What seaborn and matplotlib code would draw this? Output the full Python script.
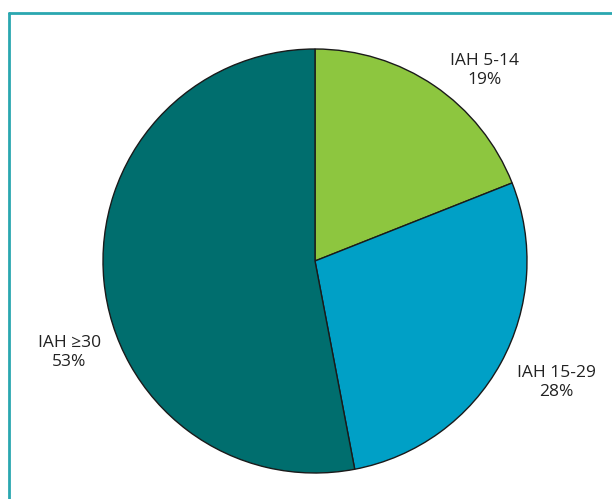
import matplotlib
matplotlib.use("Agg")
import matplotlib.pyplot as plt
from matplotlib.lines import Line2D
import seaborn as sns

# data
categories = ["IAH 5-14", "IAH 15-29", "IAH \u226530"]
shares = [19, 28, 53]
colors = sns.color_palette(["#8DC63F", "#00A0C6", "#006E6E"])

sns.set_theme(style="white")
plt.rcParams['font.family'] = ['Open Sans', 'DejaVu Sans']

fig = plt.figure(figsize=(6.12, 4.99), dpi=100)
# axes sized so the pie sits like the original
ax = fig.add_axes([103 / 612, 26 / 499, 424 / 612, 424 / 499])

labels = [f"{c}\n{s}%" for c, s in zip(categories, shares)]
wedges, texts = ax.pie(shares, labels=labels, colors=colors, startangle=90,
                       counterclock=False, radius=1.0,
                       wedgeprops=dict(edgecolor="#1a1a1a", linewidth=1.0),
                       textprops=dict(fontsize=12.5, color="#222222",
                                      ha="center", va="center",
                                      linespacing=1.25))
# nudge the labels to where they sit in the original
label_pos = [(0.80, 0.90), (1.14, -0.575), (-1.16, -0.43)]
for t, p in zip(texts, label_pos):
    t.set_position(p)
    t.set_ha("center")
    t.set_va("center")
ax.set_xlim(-1, 1)
ax.set_ylim(-1, 1)
ax.set_aspect("equal")

# teal frame (left and top edges only visible)
frame = "#2AA7B0"
fig.add_artist(Line2D([9 / 612, 9 / 612], [0, 1 - 13 / 499], color=frame, lw=2,
                      transform=fig.transFigure))
fig.add_artist(Line2D([9 / 612, 1], [1 - 13 / 499, 1 - 13 / 499], color=frame, lw=2,
                      transform=fig.transFigure))

plt.savefig("out.png", dpi=100)
